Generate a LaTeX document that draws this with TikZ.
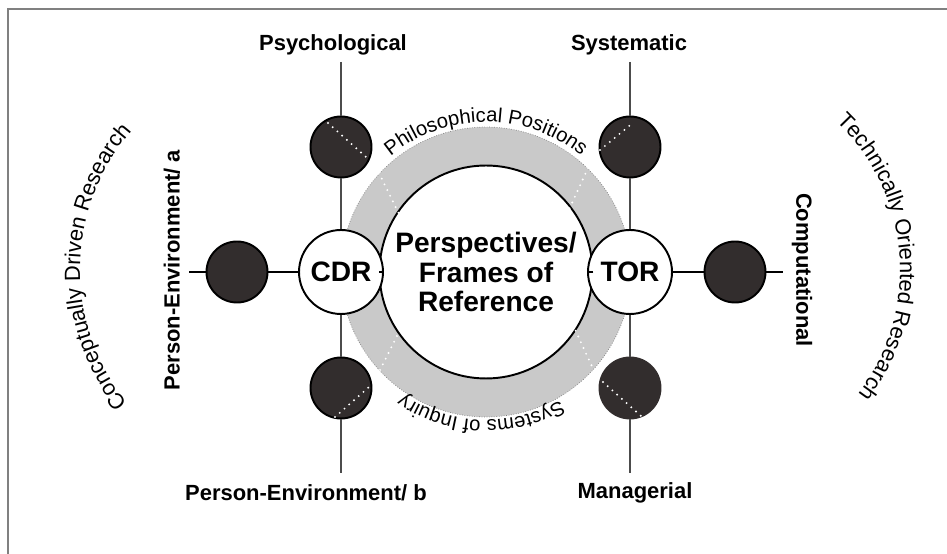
\documentclass[tikz,border=0pt]{standalone}
\usepackage{fontspec}
\setmainfont{Liberation Sans}
\usetikzlibrary{decorations.text}
\definecolor{darkdot}{HTML}{322D2D}
\definecolor{ringgray}{HTML}{C9C9C9}
\tikzset{
  dark/.style={circle,draw=black,line width=1.1pt,fill=darkdot,minimum size=1.22cm,inner sep=0pt},
  hub/.style={circle,draw=black,line width=1.1pt,fill=white,minimum size=1.68cm,inner sep=0pt,
    font=\fontsize{16}{18}\selectfont\bfseries},
  lab/.style={font=\fontsize{12.5}{14}\selectfont\bfseries,inner sep=0pt},
  wdots/.style={white,line width=1.2pt,line cap=round,dash pattern=on 0pt off 3.6pt},
  arctext/.style={decorate,decoration={text along path,text align=center,text={#1}}},
}
\begin{document}
\begin{tikzpicture}[x=0.02cm,y=0.02cm]
\useasboundingbox (0,0) rectangle (947,554);
\draw[gray,line width=0.8pt] (8,0)--(8,545)--(947,545);
% ring and centre
\node[circle,fill=ringgray,draw=gray,densely dotted,line width=0.4pt,minimum size=5.8cm] (ring) at (486,282) {};
\node[circle,draw=black,line width=1.1pt,fill=white,minimum size=3.88cm,align=center,
  font=\fontsize{16}{16.6}\selectfont\bfseries] (persp) at (486,282) {Perspectives/\\Frames of\\Reference};
\node[hub] (cdr) at (341,282) {CDR};
\node[hub] (tor) at (630,282) {TOR};
% dark circles
\node[dark] (tl) at (341,407) {};
\node[dark] (tr) at (630,407) {};
\node[dark] (bl) at (341,166) {};
\node[dark,draw=darkdot] (br) at (630,166) {};
\node[dark] (lt) at (237,282) {};
\node[dark] (rt) at (735,282) {};
% labels
\node[lab] (psy) at (333,509) {Psychological};
\node[lab] (sys) at (629,509) {Systematic};
\node[lab] (peb) at (306,61) {Person-Environment/ b};
\node[lab] (man) at (635,61) {Managerial};
\node[lab,rotate=90] (pea) at (172,284) {Person-Environment/ a};
\node[lab,rotate=-90] (comp) at (802,284) {Computational};
\coordinate (topL) at (341,492);
\coordinate (topR) at (630,492);
\coordinate (botL) at (341,81);
\coordinate (botR) at (630,81);
\coordinate (endL) at (189,282);
\coordinate (endR) at (783,282);
% lines
\draw[black!70,line width=0.6pt] (topL)--(tl) (tl)--(cdr) (cdr)--(bl) (bl)--(botL);
\draw[black!70,line width=0.6pt] (topR)--(tr) (tr)--(tor) (tor)--(br) (br)--(botR);
\draw[line width=0.6pt] (endL)--(lt) (lt)--(cdr) (cdr)--(persp) (persp)--(tor) (tor)--(rt) (rt)--(endR);
% white dots
\draw[wdots] (328,431)--(366,397) (379,381)--(399,340);
\draw[wdots] (600,404)--(634,432) (588,386)--(567,340);
\draw[wdots] (335,137)--(369,167) (380,184)--(400,224);
\draw[wdots] (603,172)--(641,138) (573,229)--(595,181);
% texts on arcs
\path[arctext={|\fontsize{11.5}{13}\selectfont|Philosophical Positions}]
  (486,282) ++(135:150) arc[start angle=135,end angle=45,radius=150];
\path[arctext={|\fontsize{11.5}{13}\selectfont|Systems of Inquiry}]
  (486,282) ++(-42:148) arc[start angle=-42,end angle=-142,radius=148];
\path[arctext={|\fontsize{12.5}{14}\selectfont|Conceptually Driven Research}]
  (292,284) ++(228:212) arc[start angle=228,end angle=130,radius=212];
\path[arctext={|\fontsize{12.5}{14}\selectfont|Technically Oriented Research}]
  (694,284) ++(52:206) arc[start angle=52,end angle=-43,radius=206];
\end{tikzpicture}
\end{document}
